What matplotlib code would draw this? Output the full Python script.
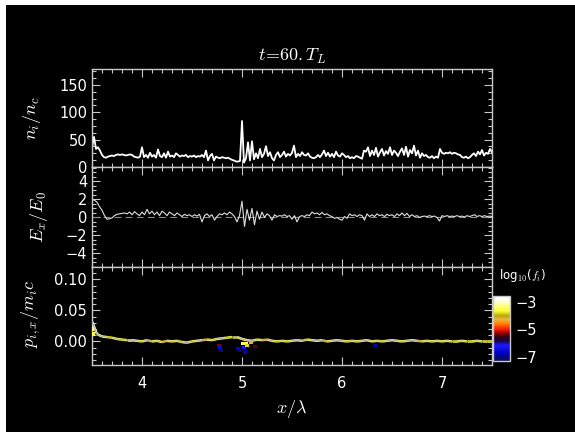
import numpy as np
import matplotlib
matplotlib.use('Agg')
import matplotlib.pyplot as plt
from matplotlib.colors import LinearSegmentedColormap, Normalize
from matplotlib.collections import LineCollection
from matplotlib.ticker import MultipleLocator, FormatStrFormatter
from matplotlib.patches import Rectangle
import matplotlib.cm as cm

plt.rcParams['mathtext.fontset'] = 'cm'
plt.rcParams['font.family'] = ['DejaVu Sans']

# ---------------- data ----------------
x_range = (3.5, 7.5)

# ion density n_i/n_c, sampled every 0.02 lambda from 3.5 to 7.5
n_i = [35, 55, 33, 36, 30, 22, 18, 17, 19, 20,
       21, 20, 22, 23, 22, 23, 22, 21, 22, 23,
       22, 19, 18, 17, 19, 36, 18, 22, 17, 26,
       19, 22, 17, 32, 20, 18, 25, 17, 28, 19,
       21, 18, 25, 22, 19, 21, 20, 22, 18, 20,
       19, 21, 18, 20, 19, 22, 18, 30, 12, 20,
       24, 12, 19, 17, 16, 18, 17, 16, 17, 15,
       13, 12, 10, 10, 11, 84, 8, 16, 45, 12,
       47, 14, 25, 16, 33, 18, 24, 38, 20, 27,
       16, 12, 22, 27, 18, 22, 28, 19, 24, 21,
       26, 39, 18, 24, 20, 27, 22, 21, 25, 19,
       17, 16, 18, 22, 18, 23, 30, 20, 26, 19,
       24, 18, 28, 21, 19, 25, 22, 18, 20, 16,
       18, 16, 20, 19, 17, 15, 30, 28, 36, 20,
       30, 22, 35, 19, 27, 33, 21, 29, 24, 36,
       22, 30, 26, 20, 28, 34, 22, 37, 19, 31,
       25, 39, 21, 30, 17, 25, 20, 22, 18, 17,
       20, 16, 19, 17, 33, 26, 24, 26, 25, 27,
       24, 26, 25, 23, 22, 18, 17, 19, 16, 18,
       22, 25, 20, 28, 23, 31, 21, 26, 24, 33,
       27]

# longitudinal field E_x/E_0, sampled every 0.025 lambda
E_x = [2.0, 1.9, 1.7, 1.2, 0.8, 0.2, -0.2, -0.15,
       -0.05, 0.2, 0.35, 0.4, 0.45, 0.5, 0.4, 0.6,
       0.3, 0.65, 0.4, 0.2, 0.6, 0.3, 0.9, 0.4,
       0.7, 0.3, 0.6, 0.2, 0.7, 0.5, 0.2, 0.6,
       0.4, 0.2, 0.5, 0.3, 0.1, 0.35, 0.2, 0.3,
       0.1, 0.3, 0.15, 0.35, -0.5, 0.2, 0.4, 0.1,
       0.3, -0.3, 0.1, 0.4, 0.3, 0.5, 0.3, 0.6,
       0.4, 0.1, -0.5, 0.2, 1.8, -1.0, 0.9, -0.3,
       1.0, -0.8, 0.7, -0.2, 0.6, 0.0, 0.4, 0.2,
       -0.3, 0.3, 0.1, 0.2, 0.15, 0.3, 0.1, 0.2,
       -0.2, 0.2, -0.5, 0.1, 0.2, 0.1, 0.3, 0.2,
       0.6, 0.4, 0.5, 0.3, 0.55, 0.3, 0.4, 0.2,
       0.1, -0.1, 0.0, -0.2, -0.3, 0.1, -0.1, 0.4,
       0.2, 0.3, 0.1, 0.3, 0.2, -0.3, 0.4, 0.1,
       0.3, 0.1, 0.4, 0.2, 0.3, 0.1, 0.35, 0.2,
       0.3, 0.1, 0.4, 0.2, 0.5, 0.2, 0.45, 0.1,
       0.3, 0.1, 0.2, 0.0, 0.1, 0.15, 0.1, 0.2,
       0.1, 0.15, 0.0, -0.4, 0.2, 0.1, 0.2, 0.1,
       0.15, 0.1, 0.2, 0.1, 0.15, 0.05, 0.2, 0.1,
       0.2, 0.3, 0.1, 0.2, 0.1, 0.2, 0.1, 0.15,
       0.1]

# mean ion momentum p_ix/m_i c, sampled every 0.05 lambda
p_ix = [0.032, 0.012, 0.008, 0.007, 0.006, 0.004, 0.003, 0.002, 0.002, 0.001,
        0.000, 0.002, 0.000, 0.001, -0.001, 0.001, 0.000, 0.001, -0.001, -0.002,
        0.000, 0.001, 0.002, 0.003, 0.002, 0.004, 0.005, 0.006, 0.007, 0.007,
        0.004, 0.002, 0.001, 0.003, 0.002, 0.003, 0.001, 0.000, 0.001, 0.000,
        0.001, 0.002, 0.001, 0.003, 0.002, 0.001, 0.002, 0.000, 0.001, 0.002,
        0.001, 0.000, 0.001, 0.000, 0.001, 0.002, 0.000, 0.001, 0.000, 0.001,
        0.002, 0.001, 0.000, 0.001, 0.002, 0.001, 0.000, 0.001, 0.000, 0.001,
        0.000, 0.001, 0.000, 0.000, 0.001, 0.000, 0.000, 0.001, 0.000, 0.000,
        0.000]

# log10(f_i) of the phase-space band along the mean momentum (per segment)
logf_band = [-3.0, -3.4, -3.6, -3.8, -3.6, -3.5, -3.7, -3.6, -3.4, -3.6,
             -3.5, -4.2, -3.6, -3.5, -4.3, -3.6, -3.5, -3.7, -3.6, -3.6,
             -3.6, -3.5, -4.2, -3.6, -3.5, -3.6, -3.7, -3.6, -3.8, -3.2,
             -3.3, -3.4, -3.6, -3.5, -4.2, -3.6, -3.5, -3.7, -3.6, -3.6,
             -3.6, -3.5, -3.8, -3.6, -3.5, -3.6, -4.3, -3.6, -3.5, -3.6,
             -3.6, -3.7, -3.6, -3.5, -3.6, -3.4, -3.6, -3.7, -3.6, -3.6,
             -3.6, -3.5, -3.6, -3.7, -3.6, -4.2, -3.6, -3.6, -3.5, -3.6,
             -3.6, -3.5, -3.6, -3.6, -3.5, -3.6, -3.6, -3.5, -3.6, -3.6]

# isolated phase-space cells
cell_x = [4.77, 4.78, 4.79, 4.96, 4.97, 5.02, 5.03, 5.07, 5.13, 6.33, 5.01, 5.04, 5.05, 5.09, 3.505, 3.51]
cell_p = [-0.006, -0.010, -0.014, -0.012, -0.015, -0.010, -0.017, -0.008, -0.008, -0.007,
          -0.004, -0.003, -0.006, -0.002, 0.020, 0.012]
cell_logf = [-5.3, -6.5, -7.0, -6.6, -7.0, -6.3, -6.9, -5.5, -5.4, -6.8,
             -3.4, -3.5, -3.8, -4.2, -3.3, -3.5]

cbar_range = (-7.31, -2.56)
cbar_ticks = [-3, -5, -7]

# ---------------- colormap ----------------
cmap = LinearSegmentedColormap.from_list('idl_like', [
    (0.00, (0.05, 0.05, 0.30)),
    (0.12, (0.00, 0.00, 0.75)),
    (0.24, (0.10, 0.10, 1.00)),
    (0.31, (0.10, 0.00, 0.25)),
    (0.38, (0.20, 0.00, 0.05)),
    (0.45, (0.75, 0.00, 0.00)),
    (0.50, (1.00, 0.15, 0.00)),
    (0.57, (1.00, 0.50, 0.00)),
    (0.64, (0.95, 0.70, 0.25)),
    (0.70, (0.72, 0.66, 0.05)),
    (0.77, (1.00, 1.00, 0.20)),
    (0.88, (1.00, 1.00, 0.65)),
    (0.94, (1.00, 1.00, 0.95)),
    (1.00, (1.00, 1.00, 1.00)),
])
norm = Normalize(vmin=cbar_range[0], vmax=cbar_range[1])

# ---------------- figure ----------------
W, H = 575, 432
fig = plt.figure(figsize=(W / 100, H / 100), dpi=100, facecolor='white')
fig.patches.append(Rectangle((6 / W, 0), 1 - 6 / W, 1 - 5 / H, transform=fig.transFigure,
                             facecolor='black', edgecolor='none', zorder=-10))

L, Wd = 92 / W, 400 / W
ax1 = fig.add_axes([L, 1 - 167 / H, Wd, 98 / H])
ax2 = fig.add_axes([L, 1 - 267 / H, Wd, 100 / H])
ax3 = fig.add_axes([L, 1 - 365 / H, Wd, 98 / H])
cax = fig.add_axes([493 / W, 1 - 361 / H, 17 / W, 65 / H])

spine_c = '#c8c8c8'
for ax in (ax1, ax2, ax3):
    ax.set_facecolor('black')
    for s in ax.spines.values():
        s.set_color(spine_c)
        s.set_linewidth(1.0)
    ax.set_xlim(*x_range)
    ax.xaxis.set_major_locator(MultipleLocator(1))
    ax.xaxis.set_minor_locator(MultipleLocator(0.1))
    ax.tick_params(which='both', direction='in', top=True, right=True,
                   color=spine_c, labelcolor='white', labelsize=10.5, width=0.8)
    ax.tick_params(which='major', length=6)
    ax.tick_params(which='minor', length=3)
    ax.tick_params(axis='y', pad=3.5)
    ax.tick_params(axis='x', pad=8)

ax1.tick_params(labelbottom=False)
ax2.tick_params(labelbottom=False)

# top: density
xn = np.linspace(x_range[0], x_range[1], len(n_i))
ax1.plot(xn, n_i, color='white', lw=1.3)
ax1.set_ylim(0, 179)
ax1.yaxis.set_major_locator(MultipleLocator(50))
ax1.yaxis.set_minor_locator(MultipleLocator(12.5))

# middle: field
xe = np.linspace(x_range[0], x_range[1], len(E_x))
ax2.axhline(0, color='#8c8c8c', lw=0.8, ls=(0, (6, 4)))
ax2.plot(xe, E_x, color='#dedede', lw=0.8)
ax2.set_ylim(-5.5, 5.6)
ax2.yaxis.set_major_locator(MultipleLocator(2))
ax2.yaxis.set_minor_locator(MultipleLocator(0.5))

# bottom: phase space
xp = np.linspace(x_range[0], x_range[1], len(p_ix))
pts = np.column_stack([xp, p_ix]).reshape(-1, 1, 2)
segs = np.concatenate([pts[:-1], pts[1:]], axis=1)
lc = LineCollection(segs, cmap=cmap, norm=norm, linewidths=1.8)
lc.set_array(np.asarray(logf_band))
ax3.add_collection(lc)
sc = ax3.scatter(cell_x, cell_p, c=cell_logf, cmap=cmap, norm=norm, marker='s', s=5,
                 linewidths=0, zorder=3)
ax3.plot(xp, p_ix, color='#a8a8a8', lw=0.7, zorder=4)
ax3.set_ylim(-0.038, 0.12)
ax3.yaxis.set_major_locator(MultipleLocator(0.05))
ax3.yaxis.set_minor_locator(MultipleLocator(0.01))
ax3.yaxis.set_major_formatter(FormatStrFormatter('%.2f'))

# labels
ax1.set_ylabel(r'$n_i/n_c$', color='white', fontsize=13)
ax1.yaxis.set_label_coords(-0.1225, 0.5)
ax2.set_ylabel(r'$E_x/E_0$', color='white', fontsize=13)
ax2.yaxis.set_label_coords(-0.105, 0.5)
ax3.set_ylabel(r'$p_{i,x}/m_ic$', color='white', fontsize=13)
ax3.yaxis.set_label_coords(-0.125, 0.52)
ax3.set_xlabel(r'$x/\lambda$', color='white', fontsize=13)
ax3.xaxis.set_label_coords(0.5, -(398 - 365) / 98)

fig.text(292 / W, 1 - 56 / H, r'$t\!=\!60.T_L$', color='white', fontsize=13,
         ha='center', va='center')

# colorbar
sm = cm.ScalarMappable(norm=norm, cmap=cmap)
cb = fig.colorbar(sm, cax=cax, ticks=cbar_ticks)
cb.outline.set_edgecolor(spine_c)
cb.outline.set_linewidth(1.0)
cax.tick_params(length=0, labelcolor='white', labelsize=10.5, pad=4)
cax.set_yticklabels(['\u22123', '\u22125', '\u22127'])
fig.text(523 / W, 1 - 276 / H, r'log$_{10}$($f_i$)', color='white', fontsize=8.5,
         ha='center', va='center')

fig.savefig('out.png', dpi=100, facecolor=fig.get_facecolor())
